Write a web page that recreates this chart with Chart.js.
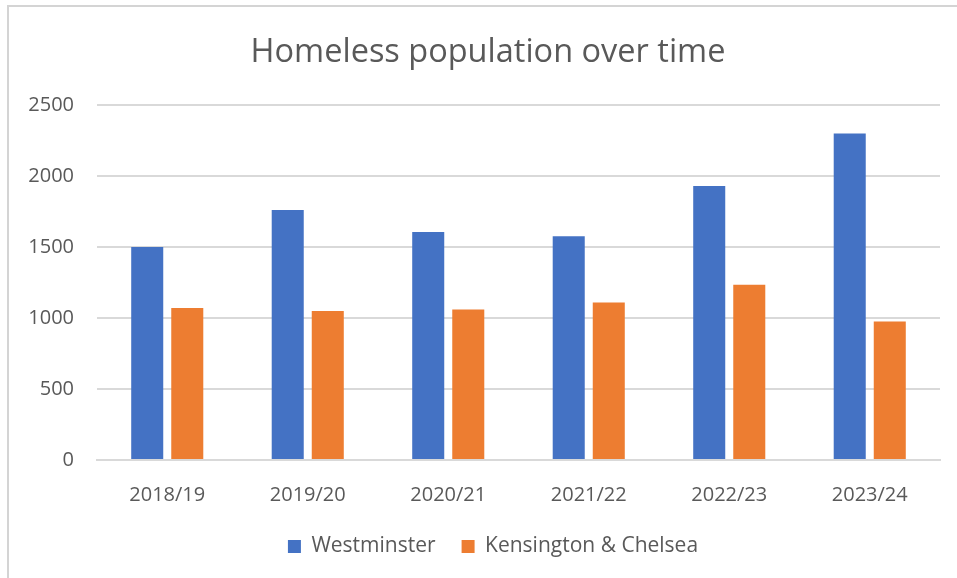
<!DOCTYPE html>
<html>
<head>
<meta charset="utf-8">
<script src="https://cdn.jsdelivr.net/npm/chart.js@4.4.1/dist/chart.umd.min.js"></script>
<style>
  html, body { margin: 0; padding: 0; background: #ffffff; }
  #wrap { position: relative; width: 957px; height: 578px; }
  canvas { display: block; }
</style>
</head>
<body>
<div id="wrap"><canvas id="c" width="957" height="578"></canvas></div>
<script>
const categories = ["2018/19", "2019/20", "2020/21", "2021/22", "2022/23", "2023/24"];
const westminster = [1500, 1760, 1605, 1575, 1930, 2300];
const kensingtonChelsea = [1070, 1050, 1060, 1110, 1235, 975];
const seriesNames = ["Westminster", "Kensington & Chelsea"];
const yTicks = [0, 500, 1000, 1500, 2000, 2500];

const textColor = "#595959";
const fontFamily = "'Open Sans', 'Noto Sans', sans-serif";

const framePlugin = {
  id: "frame",
  afterLayout(chart) {
    // title and legend are centred on the full chart frame, which extends past the viewport
    const tShift = 18, lShift = 23;
    if (chart.titleBlock) { chart.titleBlock.left += tShift; chart.titleBlock.right += tShift; }
    if (chart.legend) { chart.legend.left += lShift; chart.legend.right += lShift; }
  },
  beforeDraw(chart) {
    const ctx = chart.ctx;
    ctx.save();
    ctx.fillStyle = "#ffffff";
    ctx.fillRect(0, 0, chart.width, chart.height);
    ctx.strokeStyle = "#d4d4d4";
    ctx.lineWidth = 2;
    ctx.beginPath();
    ctx.moveTo(8, chart.height);
    ctx.lineTo(8, 6);
    ctx.lineTo(chart.width, 6);
    ctx.stroke();
    ctx.restore();
  }
};

new Chart(document.getElementById("c"), {
  type: "bar",
  data: {
    labels: categories,
    datasets: [
      { label: seriesNames[0], data: westminster, backgroundColor: "#4472C4",
        categoryPercentage: 0.57, barPercentage: 0.8 },
      { label: seriesNames[1], data: kensingtonChelsea, backgroundColor: "#ED7D31",
        categoryPercentage: 0.57, barPercentage: 0.8 }
    ]
  },
  options: {
    responsive: false,
    animation: false,
    devicePixelRatio: 1,
    layout: { padding: { left: 0, right: 17, top: 0, bottom: 11 } },
    plugins: {
      title: {
        display: true,
        text: "Homeless population over time",
        color: textColor,
        font: { family: fontFamily, size: 32.5, weight: "normal" },
        padding: { top: 33, bottom: 33 }
      },
      legend: {
        position: "bottom",
        labels: {
          color: textColor,
          font: { family: fontFamily, size: 21 },
          boxWidth: 13,
          boxHeight: 13,
          padding: 26
        }
      },
      tooltip: { enabled: false }
    },
    scales: {
      x: {
        grid: { display: false, drawTicks: false },
        border: { display: true, color: "#d9d9d9", width: 2 },
        ticks: { color: textColor, font: { family: fontFamily, size: 20 }, padding: 23 },
        afterFit(s) { s.height = 50; }
      },
      y: {
        min: 0, max: 2500,
        afterBuildTicks(s) { s.ticks = yTicks.map(v => ({ value: v })); },
        grid: { color: "#d9d9d9", lineWidth: 2, drawTicks: false },
        border: { display: false },
        ticks: { color: textColor, font: { family: fontFamily, size: 20 }, padding: 23,
                 callback: v => String(v) },
        afterFit(s) { s.width = 97; }
      }
    }
  },
  plugins: [framePlugin]
});
</script>
</body>
</html>
